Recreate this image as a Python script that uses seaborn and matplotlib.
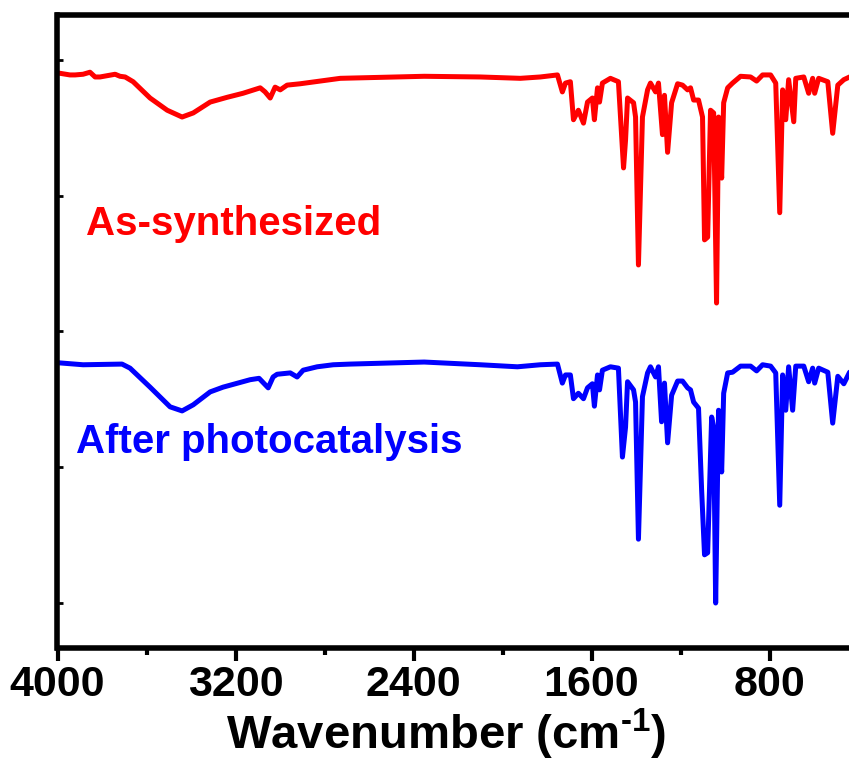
import numpy as np
import pandas as pd
import matplotlib
matplotlib.use("Agg")
import matplotlib.pyplot as plt
from matplotlib import font_manager as fm
from matplotlib.ticker import MultipleLocator
import seaborn as sns

# ---------------- data ----------------
wn_as = [4000, 3944, 3921, 3885, 3854, 3831, 3809, 3741, 3719, 3696, 3660, 3584, 3507, 3440,
         3390, 3314, 3238, 3166, 3089, 3067, 3044, 3022, 2999, 2968, 2909, 2729, 2352, 2100,
         1920, 1830, 1753, 1731, 1717, 1695, 1681, 1659, 1636, 1618, 1596, 1587, 1573, 1564,
         1551, 1515, 1479, 1456, 1447, 1438, 1411, 1402, 1389, 1371, 1348, 1335, 1312, 1299,
         1281, 1272, 1258, 1240, 1213, 1191, 1168, 1155, 1141, 1119, 1101, 1092, 1078, 1065,
         1051, 1038, 1029, 1015, 1006, 988, 966, 930, 885, 858, 831, 795, 772, 754, 741, 727,
         714, 691, 682, 646, 624, 606, 597, 579, 538, 516, 493, 466, 440, 408]
t_as = [88.1, 87.8, 87.8, 87.9, 88.2, 87.5, 87.5, 87.9, 87.6, 87.5, 86.8, 84.4, 82.6, 81.6,
        82.2, 83.8, 84.5, 85.1, 85.9, 85.3, 84.4, 86.0, 85.6, 86.3, 86.5, 87.3, 87.6, 87.5,
        87.3, 87.5, 87.8, 85.3, 86.6, 86.8, 81.2, 82.6, 80.7, 83.8, 84.4, 81.2, 85.9, 83.8,
        86.6, 87.3, 86.8, 74.1, 78.2, 84.4, 83.7, 81.6, 59.8, 81.6, 85.6, 86.6, 85.3, 86.6,
        79.0, 84.8, 76.4, 83.7, 86.5, 86.3, 85.6, 85.9, 84.1, 84.1, 81.6, 63.5, 63.9, 82.6,
        82.2, 54.2, 81.6, 72.6, 83.7, 85.9, 86.6, 87.6, 87.5, 86.9, 87.8, 87.8, 86.6, 67.5,
        85.6, 81.2, 87.1, 80.9, 87.3, 87.5, 85.1, 87.3, 85.1, 87.3, 86.8, 79.2, 86.3, 87.1,
        87.5, 87.3]

wn_after = [4000, 3885, 3710, 3674, 3584, 3494, 3440, 3390, 3314, 3256, 3134, 3094, 3053,
            3031, 3013, 2954, 2923, 2896, 2833, 2761, 2684, 2352, 2100, 1933, 1830, 1753,
            1731, 1717, 1695, 1681, 1659, 1636, 1618, 1596, 1587, 1573, 1564, 1551, 1515,
            1479, 1461, 1447, 1438, 1411, 1402, 1389, 1371, 1348, 1335, 1312, 1299, 1285,
            1272, 1258, 1240, 1213, 1191, 1168, 1155, 1141, 1119, 1105, 1092, 1078, 1060,
            1051, 1042, 1029, 1015, 1006, 988, 966, 930, 885, 858, 831, 795, 772, 754, 741,
            727, 714, 696, 682, 646, 624, 606, 597, 579, 538, 516, 493, 466, 440, 408]
t_after = [45.4, 45.1, 45.2, 44.6, 41.8, 38.9, 38.3, 39.2, 41.1, 41.8, 42.9, 43.1, 41.7,
           43.3, 43.7, 43.9, 43.3, 44.3, 44.8, 45.1, 45.2, 45.5, 45.1, 44.8, 45.1, 45.2,
           42.4, 43.6, 43.6, 40.1, 40.9, 40.1, 41.7, 42.3, 39.0, 43.6, 41.4, 44.3, 44.8,
           44.6, 31.5, 35.9, 42.6, 41.4, 39.6, 19.4, 40.4, 43.9, 44.8, 43.3, 44.8, 36.7,
           42.4, 33.6, 40.6, 42.7, 42.7, 41.7, 41.4, 39.6, 38.7, 26.6, 17.1, 17.4, 37.4,
           35.9, 10.0, 38.4, 29.3, 40.9, 43.9, 44.0, 44.9, 44.9, 44.2, 45.1, 44.9, 43.9,
           24.4, 43.6, 38.4, 44.8, 38.4, 44.9, 44.9, 42.6, 44.6, 42.4, 44.6, 44.0, 36.5,
           43.4, 42.3, 44.0, 44.3]

series_names = ["As-synthesized", "After photocatalysis"]
series_colors = ["#FF0000", "#0000FF"]
x_ticks = [4000, 3200, 2400, 1600, 800]
y_ticks = [10, 30, 50, 70, 90]

# ---------------- style ----------------
sns.set_style("ticks")
names = {f.name for f in fm.fontManager.ttflist}
base_font = "Liberation Sans" if "Liberation Sans" in names else "DejaVu Sans"

plt.rcParams["font.family"] = [base_font, "DejaVu Sans"]
plt.rcParams["font.weight"] = "bold"
plt.rcParams["text.color"] = "black"
plt.rcParams["axes.labelcolor"] = "black"
plt.rcParams["xtick.color"] = "black"
plt.rcParams["ytick.color"] = "black"
plt.rcParams["mathtext.fontset"] = "custom"
plt.rcParams["mathtext.rm"] = f"{base_font}:bold"
plt.rcParams["mathtext.default"] = "regular"

df = pd.concat([
    pd.DataFrame({"wn": wn_as, "T": t_as, "sample": series_names[0]}),
    pd.DataFrame({"wn": wn_after, "T": t_after, "sample": series_names[1]}),
])

fig = plt.figure(figsize=(8.49, 7.62), dpi=100)
ax = fig.add_axes([57.5 / 849, (762 - 648) / 762, 801 / 849, 633 / 762])

sns.lineplot(data=df, x="wn", y="T", hue="sample", palette=series_colors,
             estimator=None, sort=False, linewidth=3.6, legend=False, ax=ax)

ax.set_xlim(4000, 400)
ax.set_ylim(3.37, 96.63)
ax.set_xticks(x_ticks)
ax.xaxis.set_minor_locator(MultipleLocator(400))
ax.set_yticks(y_ticks)
ax.set_ylabel("")

for s in ax.spines.values():
    s.set_linewidth(4)
    s.set_color("black")

ax.tick_params(axis="x", which="major", direction="out", length=9, width=3, pad=3,
               labelsize=31)
ax.tick_params(axis="x", which="minor", direction="out", length=5, width=3)
ax.tick_params(axis="y", which="major", direction="in", length=4, width=2, labelleft=False)
for lab in ax.get_xticklabels():
    lab.set_fontweight("bold")

ax.set_xlabel("Wavenumber (cm$^{\\text{-1}}$)", fontsize=34, fontweight="bold")
ax.xaxis.label.set_va("baseline")
ax.xaxis.set_label_coords(0.485, (648 - 749) / 633)

ax.text(3872, 64.2, series_names[0], color=series_colors[0], fontsize=29,
        fontweight="bold", ha="left", va="baseline")
ax.text(3917, 32.1, series_names[1], color=series_colors[1], fontsize=29,
        fontweight="bold", ha="left", va="baseline")

fig.savefig("out.png", dpi=100)
